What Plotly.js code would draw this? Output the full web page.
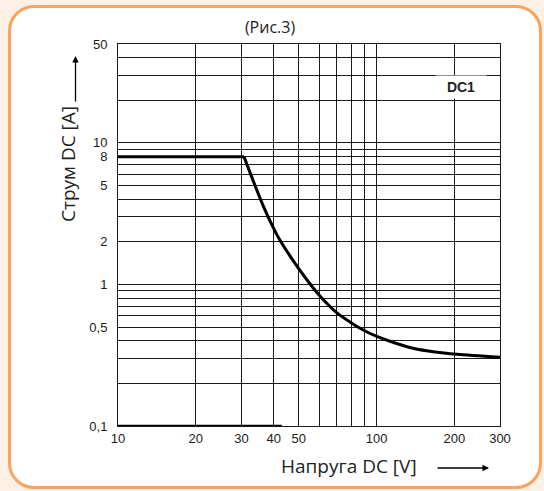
<!DOCTYPE html>
<html>
<head>
<meta charset="utf-8">
<script src="https://cdn.plot.ly/plotly-3.0.1.min.js"></script>
<style>
  html, body { margin:0; padding:0; width:544px; height:491px; background:#fdf1e6; overflow:hidden; }
  #frame { position:absolute; left:8px; top:5px; width:528px; height:478px; border:3px solid #f9a35e; border-radius:26px; background:#ffffff; }
  #chart { position:absolute; left:0; top:0; width:544px; height:491px; }
</style>
</head>
<body>
<div id="frame"></div>
<div id="chart"></div>
<script>
// Flat section of the limit curve (current stays at 8 A)
const flatX = [10, 30.7];
const flatY = [8, 8];
// Falling section of the DC1 load limit curve
const curveX = [30.7, 33.3, 36.4, 39.8, 42.3, 46.3, 52.4, 59.9, 70.3, 81.0, 91.0, 101.3, 117.8, 138.3, 168.2, 204.6, 300];
const curveY = [8, 5.42, 3.61, 2.53, 2.05, 1.585, 1.148, 0.843, 0.629, 0.526, 0.465, 0.426, 0.386, 0.354, 0.333, 0.321, 0.306];
// Heavier segment along the bottom edge of the grid
const baseX = [10, 43];
const baseY = [0.1, 0.1];

// Tick labels
const xTickVals = [10, 20, 30, 40, 50, 100, 200, 300];
const xTickText = ["10", "20", "30", "40", "50", "100", "200", "300"];
const yTickVals = [0.1, 0.5, 1, 2, 5, 8, 10, 50];
const yTickText = ["0,1", "0,5", "1", "2", "5", "8", "10", "50"];
// Grid lines
const xGrid = [10, 20, 30, 40, 50, 60, 70, 80, 90, 100, 200, 300];
const yGrid = [0.1, 0.2, 0.3, 0.4, 0.5, 0.6, 0.7, 0.8, 0.9, 1, 2, 3, 4, 5, 6, 7, 8, 9, 10, 20, 30, 40, 50];

const titleText = "(Рис.3)";
const xTitle = "Напруга DC [V]";
const yTitle = "Струм DC [A]";
const seriesLabel = "DC1";
const labelPos = [212, 24.9];

const lineStyle = {color: '#000000', width: 3};
const traces = [
  {x: flatX, y: flatY, mode: 'lines', line: lineStyle, hoverinfo: 'skip', showlegend: false},
  {x: curveX, y: curveY, mode: 'lines', line: Object.assign({shape: 'spline', smoothing: 0.8}, lineStyle), hoverinfo: 'skip', showlegend: false},
  {x: baseX, y: baseY, mode: 'lines', line: {color: '#000000', width: 2.5}, cliponaxis: false, hoverinfo: 'skip', showlegend: false}
];

const gridColor = '#1a1a1a';
const tickFont = {family: 'Liberation Sans, Arial, sans-serif', size: 13, color: '#1a1a1a'};
const titleFont = {family: 'Open Sans, sans-serif', size: 19, color: '#222222'};

const layout = {
  width: 544, height: 491,
  margin: {l: 118, r: 44, t: 44, b: 65, pad: 0},
  paper_bgcolor: 'rgba(0,0,0,0)',
  plot_bgcolor: '#ffffff',
  title: {text: titleText, x: 270/544, xref: 'container', xanchor: 'center', y: 1 - 27.5/491, yref: 'container', yanchor: 'middle',
          font: {family: 'Open Sans, sans-serif', size: 16, color: '#222222'}},
  xaxis: {
    type: 'log', range: [1, Math.log10(300)],
    tickmode: 'array', tickvals: xTickVals, ticktext: xTickText,
    ticks: '', ticklabelstandoff: 0, tickfont: tickFont,
    showgrid: false,
    minor: {tickmode: 'array', tickvals: xGrid, showgrid: true, gridcolor: gridColor, gridwidth: 1, ticks: ''},
    showline: true, mirror: true, linecolor: gridColor, linewidth: 1, zeroline: false, fixedrange: true
  },
  yaxis: {
    type: 'log', range: [-1, Math.log10(50)],
    tickmode: 'array', tickvals: yTickVals, ticktext: yTickText,
    ticks: '', ticklabelstandoff: 7, tickfont: tickFont,
    showgrid: false,
    minor: {tickmode: 'array', tickvals: yGrid, showgrid: true, gridcolor: gridColor, gridwidth: 1, ticks: ''},
    showline: true, mirror: true, linecolor: gridColor, linewidth: 1, zeroline: false, fixedrange: true
  },
  annotations: [
    {text: '<b>' + seriesLabel + '</b>', x: Math.log10(labelPos[0]), y: Math.log10(labelPos[1]), xref: 'x', yref: 'y',
     showarrow: false, bgcolor: '#ffffff', width: 50, height: 22, borderpad: 0,
     font: {family: 'Liberation Sans, Arial, sans-serif', size: 14, color: '#222222'}},
    {text: xTitle, xref: 'paper', yref: 'paper', x: (349 - 118) / 382, y: (426 - 466) / 382,
     xanchor: 'center', yanchor: 'middle', showarrow: false, font: titleFont},
    {text: yTitle, xref: 'paper', yref: 'paper', x: (68 - 118) / 382, y: (426 - 164) / 382,
     xanchor: 'center', yanchor: 'middle', textangle: -90, showarrow: false, font: titleFont},
    {text: '', xref: 'paper', yref: 'paper', x: (489 - 118) / 382, y: (426 - 468) / 382,
     ax: -53, ay: 0, showarrow: true, arrowhead: 2, arrowsize: 1, arrowwidth: 1.3, arrowcolor: '#000000'},
    {text: '', xref: 'paper', yref: 'paper', x: (75.5 - 118) / 382, y: (426 - 56) / 382,
     ax: 0, ay: 47, showarrow: true, arrowhead: 2, arrowsize: 1, arrowwidth: 1.3, arrowcolor: '#000000'}
  ]
};

Plotly.newPlot('chart', traces, layout, {staticPlot: true, displayModeBar: false});
</script>
</body>
</html>
